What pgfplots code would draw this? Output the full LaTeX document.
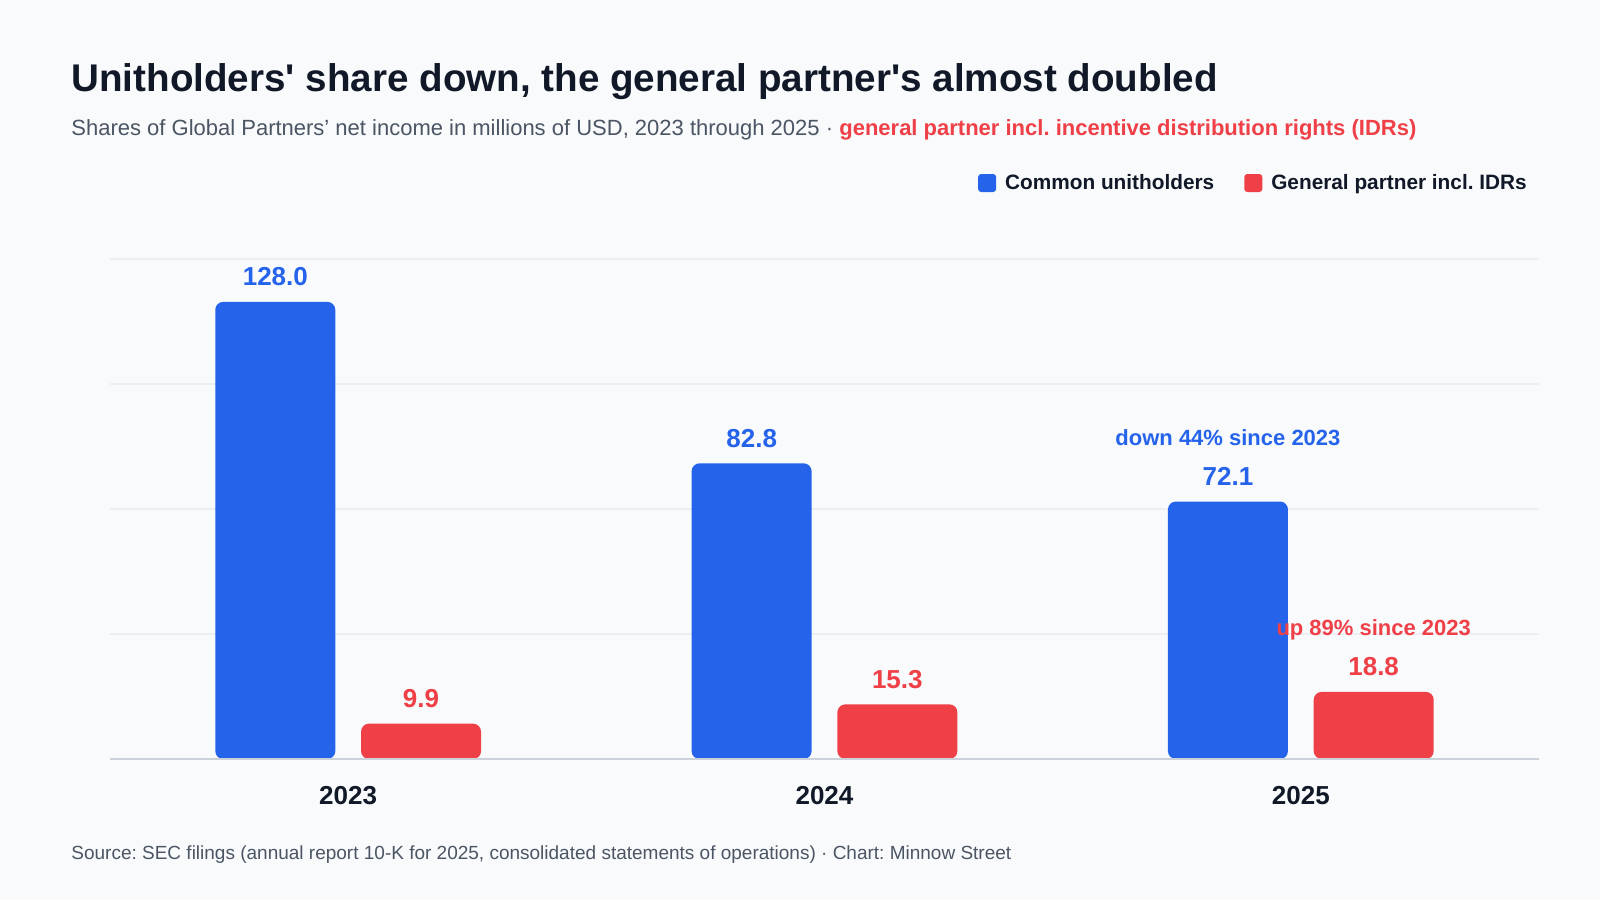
\documentclass[border=0pt]{standalone}
\usepackage{fontspec}
\setmainfont{Liberation Sans}
\usepackage{pgfplots}
\pgfplotsset{compat=1.18}
\definecolor{bg}{HTML}{F8FAFC}
\definecolor{cblue}{HTML}{2563EB}
\definecolor{cred}{HTML}{EF4048}
\definecolor{titlec}{HTML}{111827}
\definecolor{subc}{HTML}{4B5563}
\definecolor{gridc}{HTML}{ECEEF1}
\definecolor{basec}{HTML}{CBD2DB}
\frenchspacing
\begin{document}
\begin{tikzpicture}
\begin{scope}[x=0.5pt,y=-0.5pt]
\fill[bg] (0,0) rectangle (1600,900);
\node[anchor=base west, inner sep=0pt, text=titlec, font=\fontsize{19.3}{23}\selectfont\bfseries] at (71,91) {Unitholders\textquotesingle{} share down, the general partner\textquotesingle{}s almost doubled};
\node[anchor=base west, inner sep=0pt, text=subc, font=\fontsize{11}{13}\selectfont] at (71,135) {Shares of Global Partners’ net income in millions of USD, 2023 through 2025 · \textcolor{cred}{\bfseries general partner incl. incentive distribution rights (IDRs)}};
\node[anchor=base west, inner sep=0pt, text=subc, font=\fontsize{9.5}{11}\selectfont] at (71,859) {Source: SEC filings (annual report 10-K for 2025, consolidated statements of operations) · Chart: Minnow Street};
\end{scope}
\begin{axis}[
  at={(55pt,-379.5pt)}, anchor=south west,
  scale only axis, width=714.5pt, height=250pt,
  xmin=-0.5, xmax=2.5, ymin=0, ymax=140,
  ytick={0,35,70,105,140}, yticklabels={},
  xtick={0,1,2}, xticklabels={\textbf{2023},\textbf{2024},\textbf{2025}},
  major tick length=0pt,
  xticklabel style={anchor=base, yshift=-22.5pt, inner sep=0pt, text=titlec, font=\fontsize{13}{15}\selectfont\bfseries},
  ymajorgrids, grid style={draw=gridc, line width=1pt},
  axis line style={draw=none},
  clip=false,
  point meta=explicit symbolic,
  nodes near coords,
  every node near coord/.append style={anchor=base, inner sep=0pt, yshift=8pt, font=\fontsize{13}{15}\selectfont\bfseries},
  legend style={at={(0.9945,1.152)}, anchor=east, draw=none, fill=none, inner sep=0pt,
    font=\fontsize{10.4}{12}\selectfont\bfseries, text=titlec,
    /tikz/every odd column/.append style={column sep=2.5pt},
    /tikz/every even column/.append style={column sep=13pt}},
  legend columns=2, legend cell align=left,
]
\addplot[ybar, fill=cblue, draw=none, bar width=0.252, bar shift=-0.153, rounded corners=4pt,
  every node near coord/.append style={text=cblue, xshift=-36.4pt},
  legend image code/.code={\fill[cblue, rounded corners=1.5pt] (0pt,-4.5pt) rectangle (9pt,4.5pt);}]
  coordinates {(0,128.0) [128.0] (1,82.8) [82.8] (2,72.1) [72.1]};
\addlegendentry{Common unitholders}
\addplot[ybar, fill=cred, draw=none, bar width=0.252, bar shift=0.153, rounded corners=4pt,
  every node near coord/.append style={text=cred, xshift=36.4pt},
  legend image code/.code={\fill[cred, rounded corners=1.5pt] (0pt,-4.5pt) rectangle (9pt,4.5pt);}]
  coordinates {(0,9.9) [9.9] (1,15.3) [15.3] (2,18.8) [18.8]};
\addlegendentry{General partner incl. IDRs}
\draw[basec, line width=1pt] (axis cs:-0.5,0) -- (axis cs:2.5,0);
\node[anchor=base, inner sep=0pt, text=cblue, font=\fontsize{11}{13}\selectfont\bfseries, yshift=28pt] at (axis cs:1.847,72.1) {down 44\% since 2023};
\node[anchor=base, inner sep=0pt, text=cred, font=\fontsize{11}{13}\selectfont\bfseries, yshift=28pt] at (axis cs:2.153,18.8) {up 89\% since 2023};
\end{axis}
\pgfresetboundingbox
\path[use as bounding box] (0pt,0pt) rectangle (800pt,-450pt);
\end{tikzpicture}
\end{document}
